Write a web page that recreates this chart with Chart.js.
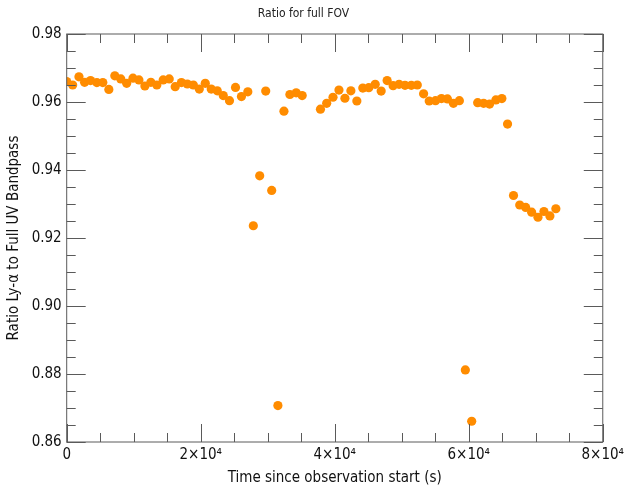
<!DOCTYPE html>
<html>
<head>
<meta charset="utf-8">
<script src="https://cdn.jsdelivr.net/npm/chart.js@4"></script>
<style>
  html, body { margin: 0; padding: 0; background: #fff; }
  #wrap { width: 628px; height: 487px; }
</style>
</head>
<body>
<div id="wrap"><canvas id="chart"></canvas></div>
<script>
// time since observation start (s)
const timeValues = [
  0, 890, 1830, 2670, 3560, 4500, 5390, 6290, 7180, 8070,
  8950, 9890, 10780, 11670, 12560, 13450, 14400, 15300, 16190, 17120,
  18010, 18900, 19790, 20680, 21570, 22470, 23360, 24290, 25190, 26080,
  27030, 27850, 28800, 29700, 30590, 31520, 32420, 33310, 34250, 35140,
  37870, 38800, 39740, 40630, 41520, 42410, 43300, 44190, 45080, 46040,
  46930, 47820, 48710, 49600, 50490, 51430, 52320, 53260, 54100, 55040,
  55930, 56820, 57710, 58600, 59490, 60440, 61330, 62220, 63110, 64050,
  64940, 65790, 66680, 67610, 68500, 69390, 70330, 71220, 72110, 73000
];
// Ly-alpha / full UV ratio
const ratioValues = [
  0.9660, 0.9650, 0.9674, 0.9658, 0.9663, 0.9657, 0.9657, 0.9637, 0.9677, 0.9668,
  0.9655, 0.9670, 0.9665, 0.9647, 0.9658, 0.9650, 0.9665, 0.9668, 0.9645, 0.9657,
  0.9653, 0.9650, 0.9638, 0.9655, 0.9638, 0.9633, 0.9619, 0.9604, 0.9643, 0.9616,
  0.9630, 0.9236, 0.9383, 0.9632, 0.9340, 0.8707, 0.9573, 0.9622, 0.9627, 0.9619,
  0.9579, 0.9596, 0.9614, 0.9635, 0.9611, 0.9633, 0.9603, 0.9641, 0.9642, 0.9652,
  0.9632, 0.9663, 0.9648, 0.9652, 0.9649, 0.9649, 0.9650, 0.9624, 0.9603, 0.9604,
  0.9610, 0.9609, 0.9596, 0.9604, 0.8812, 0.8661, 0.9598, 0.9596, 0.9594, 0.9606,
  0.9610, 0.9535, 0.9325, 0.9297, 0.9290, 0.9276, 0.9261, 0.9278, 0.9265, 0.9286
];
const xMajorTicks = [0, 20000, 40000, 60000, 80000];
const xTickLabels = ['0', '2×10⁴', '4×10⁴', '6×10⁴', '8×10⁴'];
const yMajorTicks = [0.86, 0.88, 0.90, 0.92, 0.94, 0.96, 0.98];

const FONT = "'DejaVu Sans Condensed', 'DejaVu Sans', sans-serif";
const FRAME = '#5a5a5a';

const points = timeValues.map((t, i) => ({ x: t, y: ratioValues[i] }));

// frame + inward ticks on all four sides, like the original plot
const frameTicks = {
  id: 'frameTicks',
  afterDraw(chart) {
    const { ctx, chartArea: a, scales } = chart;
    const xs = scales.x, ys = scales.y;
    ctx.save();
    ctx.strokeStyle = FRAME;
    ctx.lineWidth = 1;
    ctx.strokeRect(a.left, a.top, a.right - a.left, a.bottom - a.top);
    ctx.beginPath();
    for (let v = 0; v <= 80000; v += 5000) {
      const px = Math.round(xs.getPixelForValue(v)) + 0.5;
      const len = v % 20000 === 0 ? 18 : 9;
      ctx.moveTo(px, a.bottom); ctx.lineTo(px, a.bottom - len);
      ctx.moveTo(px, a.top); ctx.lineTo(px, a.top + len);
    }
    for (let k = 0; k <= 24; k++) {
      const v = 0.86 + k * 0.005;
      const py = Math.round(ys.getPixelForValue(v)) + 0.5;
      const len = k % 4 === 0 ? 19 : 9;
      ctx.moveTo(a.left, py); ctx.lineTo(a.left + len, py);
      ctx.moveTo(a.right, py); ctx.lineTo(a.right - len, py);
    }
    ctx.stroke();
    ctx.restore();
  }
};

new Chart(document.getElementById('chart'), {
  type: 'scatter',
  data: {
    datasets: [{
      data: points,
      backgroundColor: '#ff8c00',
      borderWidth: 0,
      pointRadius: 4.6,
      pointHoverRadius: 4.6
    }]
  },
  options: {
    responsive: true,
    maintainAspectRatio: false,
    animation: false,
    layout: { padding: { left: 0, right: 21, top: 0, bottom: 0 } },
    plugins: {
      legend: { display: false },
      tooltip: { enabled: false },
      title: {
        display: true,
        text: 'Ratio for full FOV',
        color: '#222',
        font: { family: FONT, size: 12, weight: 'normal' },
        padding: { top: 7, bottom: 12.6 }
      }
    },
    scales: {
      x: {
        type: 'linear',
        min: 0,
        max: 80000,
        afterBuildTicks: s => { s.ticks = xMajorTicks.map(v => ({ value: v })); },
        afterFit: s => { s.height = 45; },
        grid: { display: false, drawTicks: false },
        border: { display: false },
        ticks: {
          color: '#111',
          padding: 4,
          font: { family: FONT, size: 15 },
          maxRotation: 0,
          callback: v => xTickLabels[xMajorTicks.indexOf(v)]
        },
        title: {
          display: true,
          text: 'Time since observation start (s)',
          color: '#111',
          font: { family: FONT, size: 15 },
          padding: { top: 6, bottom: 0 }
        }
      },
      y: {
        type: 'linear',
        min: 0.86,
        max: 0.98,
        afterBuildTicks: s => { s.ticks = yMajorTicks.map(v => ({ value: v })); },
        afterFit: s => { s.width = 66.7; },
        grid: { display: false, drawTicks: false },
        border: { display: false },
        ticks: {
          color: '#111',
          padding: 5,
          font: { family: FONT, size: 15 },
          callback: v => v.toFixed(2)
        },
        title: {
          display: true,
          text: 'Ratio Ly-α to Full UV Bandpass',
          color: '#111',
          font: { family: FONT, size: 15 },
          padding: { top: 5, bottom: 0 }
        }
      }
    }
  },
  plugins: [frameTicks]
});
</script>
</body>
</html>
